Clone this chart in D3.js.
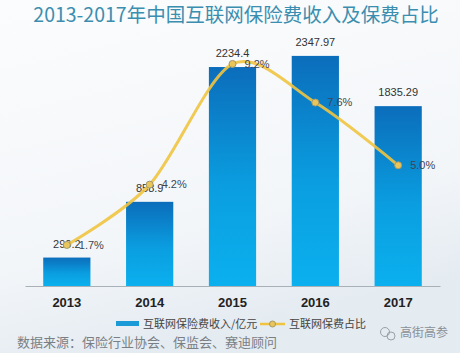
<!DOCTYPE html>
<html>
<head>
<meta charset="utf-8">
<script src="https://cdn.jsdelivr.net/npm/d3@7"></script>
<style>
  body { margin: 0; background: #f4f6f8; }
  svg { display: block; font-family: "Noto Sans CJK SC", "Microsoft YaHei", sans-serif; }
</style>
</head>
<body>
<div id="chart"></div>
<script>
var years = ["2013", "2014", "2015", "2016", "2017"];
var premium = [290.2, 858.9, 2234.4, 2347.97, 1835.29];
var premiumLabels = ["290.2", "858.9", "2234.4", "2347.97", "1835.29"];
var share = [1.7, 4.2, 9.2, 7.6, 5.0];
var shareLabels = ["1.7%", "4.2%", "9.2%", "7.6%", "5.0%"];

var width = 460, height = 353;
var margin = { top: 41, right: 20, bottom: 67, left: 25 };

var svg = d3.select("#chart")
  .append("svg")
  .attr("width", width)
  .attr("height", height);

// background
var defs = svg.append("defs");
var bg = defs.append("linearGradient")
  .attr("id", "bg").attr("x1", 0).attr("y1", 0).attr("x2", 0.3).attr("y2", 1);
bg.append("stop").attr("offset", "0%").attr("stop-color", "#fbfcfd");
bg.append("stop").attr("offset", "70%").attr("stop-color", "#f3f6f9");
bg.append("stop").attr("offset", "100%").attr("stop-color", "#e4ebf1");
svg.append("rect").attr("width", width).attr("height", height).attr("fill", "url(#bg)");

var barGrad = defs.append("linearGradient")
  .attr("id", "barGrad").attr("x1", 0).attr("y1", 0).attr("x2", 0).attr("y2", 1);
barGrad.append("stop").attr("offset", "0%").attr("stop-color", "#0b6dbb");
barGrad.append("stop").attr("offset", "55%").attr("stop-color", "#0a9ee0");
barGrad.append("stop").attr("offset", "100%").attr("stop-color", "#0bb0ee");

// title
svg.append("text")
  .attr("x", 236).attr("y", 15)
  .attr("dy", "0.35em")
  .attr("text-anchor", "middle")
  .attr("fill", "#3b8eaf")
  .style("font-size", "19.5px")
  .text("2013-2017年中国互联网保险费收入及保费占比");

var x = d3.scaleBand()
  .domain(years)
  .range([margin.left, width - margin.right])
  .paddingInner(0.43)
  .paddingOuter(0.22);

var y = d3.scaleLinear()
  .domain([0, 2500])
  .range([height - margin.bottom, margin.top]);

var y2 = d3.scaleLinear()
  .domain([0, 10.15])
  .range([height - margin.bottom, margin.top]);

// bars
svg.selectAll(".bar")
  .data(premium)
  .enter()
  .append("rect")
  .attr("class", "bar")
  .attr("x", function (d, i) { return x(years[i]); })
  .attr("y", function (d) { return y(d); })
  .attr("width", x.bandwidth())
  .attr("height", function (d) { return y(0) - y(d); })
  .attr("fill", "url(#barGrad)");

// x axis
var xAxis = svg.append("g")
  .attr("transform", "translate(0," + (height - margin.bottom) + ")")
  .call(d3.axisBottom(x).tickSize(0).tickPadding(12));
xAxis.select(".domain").attr("stroke", "#a9b1b8").attr("stroke-width", 1.2);
xAxis.selectAll("text")
  .attr("fill", "#222")
  .style("font-size", "13px")
  .style("font-weight", "bold")
  .style("font-family", "Arial, 'Liberation Sans', sans-serif");

// bar labels
svg.selectAll(".barLabel")
  .data(premiumLabels)
  .enter()
  .append("text")
  .attr("x", function (d, i) { return x(years[i]) + x.bandwidth() / 2; })
  .attr("y", function (d, i) { return y(premium[i]) - 10; })
  .attr("text-anchor", "middle")
  .attr("fill", "#333")
  .style("font-size", "11px")
  .style("font-family", "Arial, 'Liberation Sans', sans-serif")
  .text(function (d) { return d; });

// share line
var cx = function (d, i) { return x(years[i]) + x.bandwidth() / 2; };
var line = d3.line()
  .x(cx)
  .y(function (d) { return y2(d); })
  .curve(d3.curveCardinal.tension(0.1));

svg.append("path")
  .datum(share)
  .attr("d", line)
  .attr("fill", "none")
  .attr("stroke", "#f0c440")
  .attr("stroke-width", 3)
  .style("opacity", 0.9);

svg.selectAll(".pt")
  .data(share)
  .enter()
  .append("circle")
  .attr("cx", cx)
  .attr("cy", function (d) { return y2(d); })
  .attr("r", 3.5)
  .attr("fill", "#e9c55a")
  .attr("stroke", "#a59a6a")
  .attr("stroke-width", 1);

svg.selectAll(".shareLabel")
  .data(shareLabels)
  .enter()
  .append("text")
  .attr("x", function (d, i) { return cx(share[i], i) + 12; })
  .attr("y", function (d, i) { return y2(share[i]); })
  .attr("dy", "0.35em")
  .attr("fill", "#3d4650")
  .style("font-size", "11px")
  .style("font-family", "Arial, 'Liberation Sans', sans-serif")
  .text(function (d) { return d; });

// legend
var legend = svg.append("g").style("font-size", "11px");
legend.append("rect")
  .attr("x", 116).attr("y", 321).attr("width", 23).attr("height", 5)
  .attr("fill", "#1a9ad6");
legend.append("text")
  .attr("x", 143).attr("y", 324).attr("dy", "0.35em")
  .attr("fill", "#444")
  .text("互联网保险费收入/亿元");
legend.append("line")
  .attr("x1", 260).attr("x2", 285).attr("y1", 324).attr("y2", 324)
  .attr("stroke", "#f0c440").attr("stroke-width", 2.5);
legend.append("circle")
  .attr("cx", 272.5).attr("cy", 324).attr("r", 3)
  .attr("fill", "#e9c55a").attr("stroke", "#a59a6a");
legend.append("text")
  .attr("x", 289).attr("y", 324).attr("dy", "0.35em")
  .attr("fill", "#444")
  .text("互联网保费占比");

// source
svg.append("text")
  .attr("x", 17).attr("y", 342).attr("dy", "0.35em")
  .attr("fill", "#7a7f85")
  .style("font-size", "13px")
  .text("数据来源：保险行业协会、保监会、赛迪顾问");

// watermark
var wm = svg.append("g").attr("fill", "none").attr("stroke", "#9aa0a6").attr("stroke-width", 1);
wm.append("circle").attr("cx", 385).attr("cy", 332).attr("r", 4.5);
wm.append("circle").attr("cx", 391).attr("cy", 336).attr("r", 4);
svg.append("text")
  .attr("x", 400).attr("y", 333).attr("dy", "0.35em")
  .attr("fill", "#8a9096")
  .style("font-size", "12px")
  .text("高街高参");
</script>
</body>
</html>
